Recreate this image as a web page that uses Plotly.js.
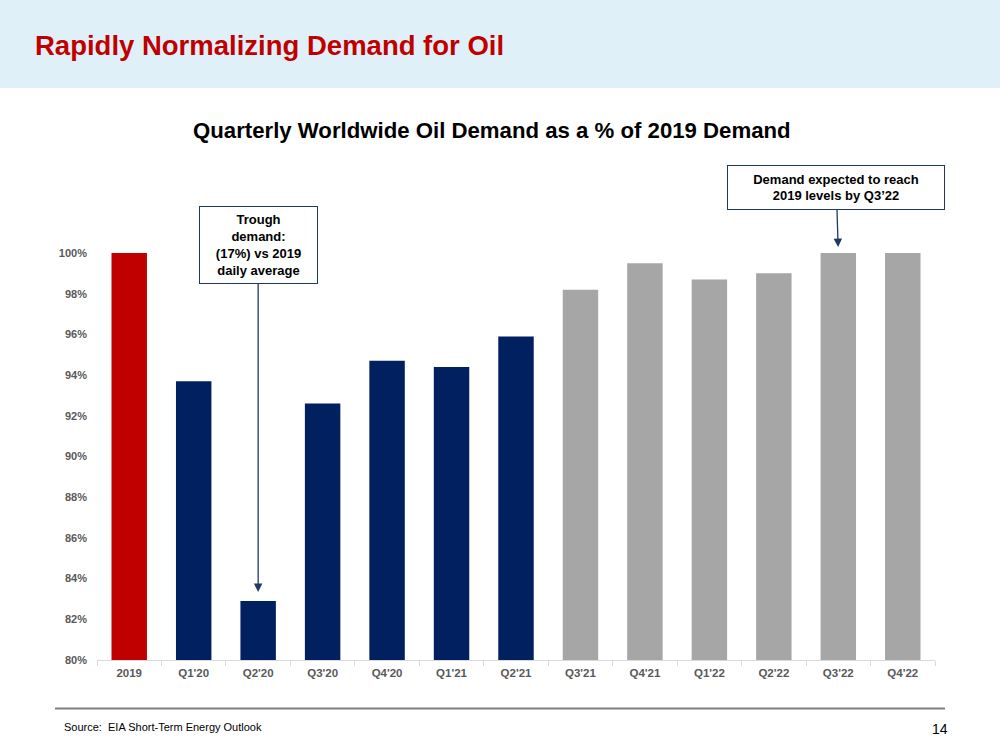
<!DOCTYPE html>
<html>
<head>
<meta charset="utf-8">
<script src="https://cdn.plot.ly/plotly-3.0.1.min.js"></script>
<style>html,body{margin:0;padding:0;background:#fff;}#chart{width:1000px;height:750px;}</style>
</head>
<body>
<div id="chart"></div>
<script>
// ---- data ----
const categories = ["2019","Q1'20","Q2'20","Q3'20","Q4'20","Q1'21","Q2'21","Q3'21","Q4'21","Q1'22","Q2'22","Q3'22","Q4'22"];
const demandPct = [100, 93.7, 82.9, 92.6, 94.7, 94.4, 95.9, 98.2, 99.5, 98.7, 99.0, 100, 100];
const phase = ["base","actual","actual","actual","actual","actual","actual","forecast","forecast","forecast","forecast","forecast","forecast"];
const yTickVals = [80,82,84,86,88,90,92,94,96,98,100];

// ---- styling ----
const phaseColors = {base:"#c00000", actual:"#002060", forecast:"#a6a6a6"};
const FONT = "Liberation Sans, Arial, Helvetica, sans-serif";
const NAVY = "#1f3864";

// plot area in pixels (for positioning decorations)
const L = 97, R = 935, T = 253, B = 660;
const px = x => (x - L) / (R - L);
const py = y => (B - y) / (B - T);
const yPix = v => B - (v - 80) * (B - T) / 20;

const trace = {
  type: "bar", x: categories, y: demandPct,
  marker: {color: phase.map(p => phaseColors[p]), line: {width: 0}},
  hoverinfo: "skip"
};

const layout = {
  width: 1000, height: 750, autosize: false,
  margin: {l: L, r: 1000 - R, t: T, b: 750 - B, pad: 0},
  paper_bgcolor: "#ffffff", plot_bgcolor: "#ffffff",
  showlegend: false,
  bargap: 0.45,
  font: {family: FONT, color: "#000"},
  xaxis: {
    type: "category", range: [-0.5, categories.length - 0.5], autorange: false,
    showline: true, linecolor: "#d9d9d9", linewidth: 1,
    ticks: "outside", tickson: "boundaries", ticklen: 5, tickcolor: "#d9d9d9",
    ticklabelstandoff: 2,
    tickfont: {family: FONT, size: 11.5, color: "#595959", weight: "bold"},
    showgrid: false, zeroline: false, fixedrange: true
  },
  yaxis: {
    range: [80, 100], autorange: false,
    tickvals: yTickVals,
    ticktext: yTickVals.map(v => v + "%"),
    showline: false, showgrid: false, zeroline: false, ticks: "",
    ticklabelstandoff: 9,
    tickfont: {family: FONT, size: 11, color: "#595959", weight: "bold"},
    fixedrange: true
  },
  shapes: [
    {type: "rect", xref: "paper", yref: "paper", x0: px(0), x1: px(1000), y0: py(88), y1: py(0),
     fillcolor: "#dff0f8", line: {width: 0}, layer: "below"},
    {type: "line", xref: "paper", yref: "paper", x0: px(55), x1: px(945), y0: py(708.5), y1: py(708.5),
     line: {color: "#7f7f7f", width: 2}}
  ],
  annotations: [
    {xref: "paper", yref: "paper", x: px(33), y: py(45), xanchor: "left", yanchor: "middle",
     text: "<b>Rapidly Normalizing Demand for Oil</b>", showarrow: false,
     font: {family: FONT, size: 27.5, color: "#c00000"}},
    {xref: "paper", yref: "paper", x: px(492), y: py(130), xanchor: "center", yanchor: "middle",
     text: "<b>Quarterly Worldwide Oil Demand as a % of 2019 Demand</b>", showarrow: false,
     font: {family: FONT, size: 22.2, color: "#000"}},
    {xref: "x", yref: "y", x: categories[2], y: demandPct[2],
     text: "<b>Trough<br>demand:<br>(17%) vs 2019<br>daily average</b>",
     showarrow: true, ax: 0, ay: 245 - yPix(demandPct[2]), axref: "pixel", ayref: "pixel",
     arrowhead: 2, arrowsize: 1.3, arrowwidth: 1.3, arrowcolor: NAVY, standoff: 9,
     bordercolor: NAVY, borderwidth: 1, borderpad: 2, bgcolor: "#ffffff",
     width: 113, height: 72, align: "center", valign: "middle",
     font: {family: FONT, size: 13, color: "#000"}},
    {xref: "x", yref: "y", x: categories[11], y: demandPct[11],
     text: "<b>Demand expected to reach<br>2019 levels by Q3\u201922</b>",
     showarrow: true, ax: -2, ay: 187.5 - yPix(demandPct[11]), axref: "pixel", ayref: "pixel",
     arrowhead: 2, arrowsize: 1.3, arrowwidth: 1.3, arrowcolor: NAVY, standoff: 6,
     bordercolor: NAVY, borderwidth: 1, borderpad: 2, bgcolor: "#ffffff",
     width: 212, height: 39, align: "center", valign: "middle",
     font: {family: FONT, size: 13, color: "#000"}},
    {xref: "paper", yref: "paper", x: px(62), y: py(727), xanchor: "left", yanchor: "middle",
     text: "Source:  EIA Short-Term Energy Outlook", showarrow: false,
     font: {family: "Liberation Sans Narrow, Liberation Sans, Arial, sans-serif", size: 11, color: "#000"}},
    {xref: "paper", yref: "paper", x: px(950), y: py(729), xanchor: "right", yanchor: "middle",
     text: "14", showarrow: false,
     font: {family: FONT, size: 14, color: "#000"}}
  ]
};

Plotly.newPlot("chart", [trace], layout, {staticPlot: true, displayModeBar: false});
</script>
</body>
</html>
